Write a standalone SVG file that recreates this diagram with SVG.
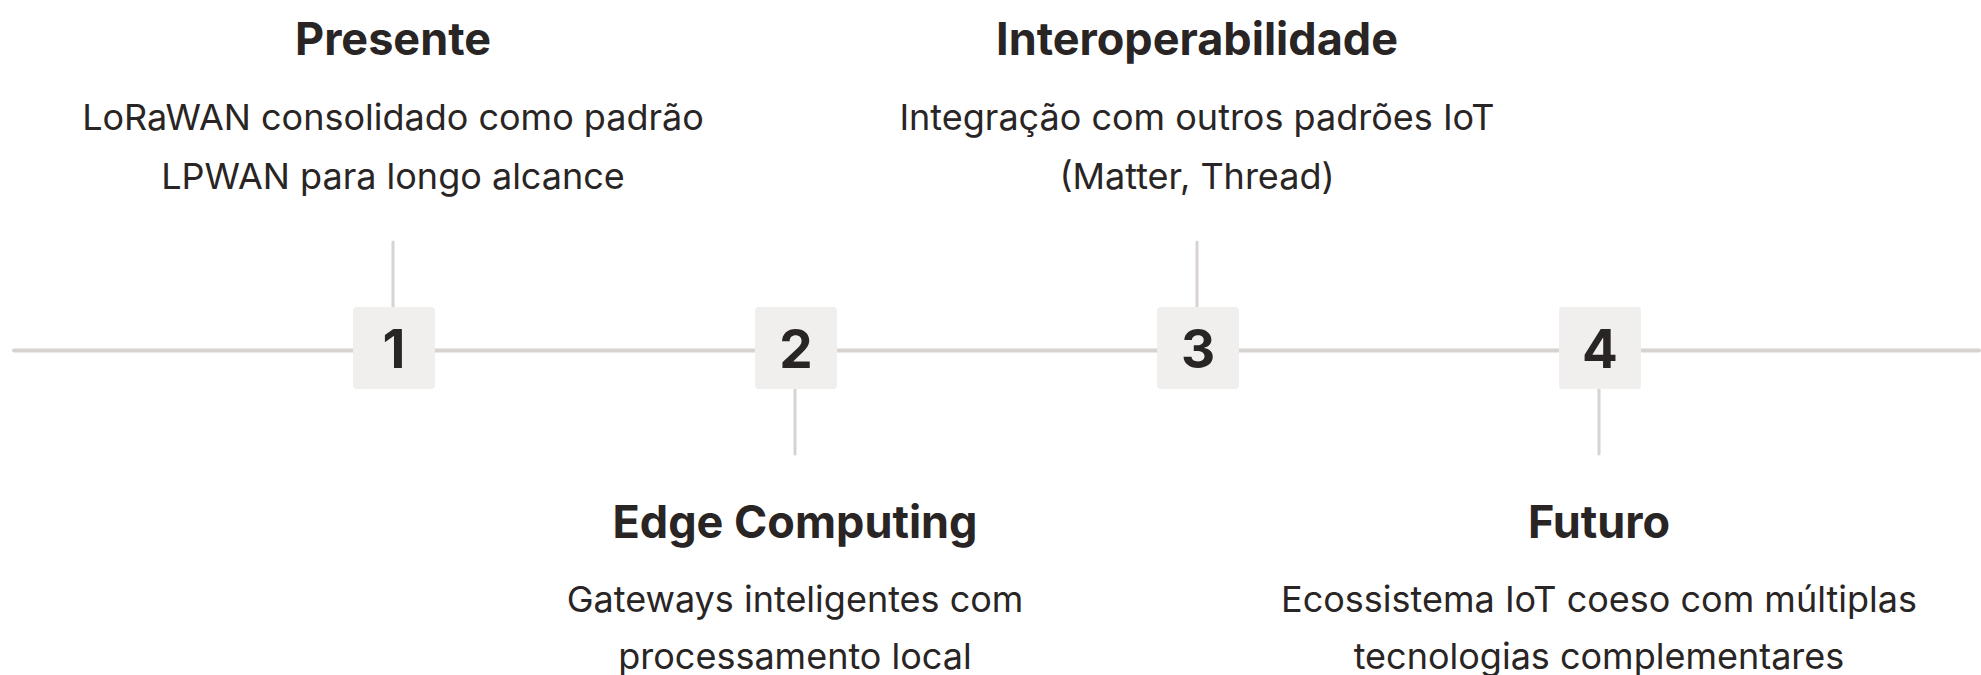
<svg xmlns="http://www.w3.org/2000/svg" width="1981" height="675" viewBox="0 0 1981 675">
<style>
.title{font-family:Inter,"Liberation Sans",sans-serif;font-weight:700;font-size:45px;fill:#292524;text-anchor:middle}
.desc{font-family:Inter,"Liberation Sans",sans-serif;font-weight:400;font-size:36px;fill:#292524;text-anchor:middle}
.num{font-family:Inter,"Liberation Sans",sans-serif;font-weight:700;font-size:53px;fill:#292524;text-anchor:middle}
.box{fill:#f1efee}
.axis{stroke:#d6d3d1;stroke-width:4;stroke-linecap:round;fill:none}
.tick{stroke:#d6d3d1;stroke-width:3;stroke-linecap:round;fill:none}
</style>
<rect width="1981" height="675" fill="#ffffff"/>
<g id="connectors">
<line class="axis" x1="14" y1="350.5" x2="1979" y2="350.5"/>
<line class="tick" x1="393" y1="242" x2="393" y2="307"/>
<line class="tick" x1="795" y1="389" x2="795" y2="454"/>
<line class="tick" x1="1197" y1="242" x2="1197" y2="307"/>
<line class="tick" x1="1599" y1="389" x2="1599" y2="454"/>
</g>
<g id="node1">
<rect class="box" x="353" y="307" width="82" height="82" rx="4"/>
<text class="num" x="394" y="368">1</text>
<text class="title" x="393" y="55">Presente</text>
<text class="desc" x="393" y="130">LoRaWAN consolidado como padrão</text>
<text class="desc" x="393" y="189">LPWAN para longo alcance</text>
</g>
<g id="node2">
<rect class="box" x="755" y="307" width="82" height="82" rx="4"/>
<text class="num" x="796" y="368">2</text>
<text class="title" x="795" y="538">Edge Computing</text>
<text class="desc" x="795" y="612">Gateways inteligentes com</text>
<text class="desc" x="795" y="669">processamento local</text>
</g>
<g id="node3">
<rect class="box" x="1157" y="307" width="82" height="82" rx="4"/>
<text class="num" x="1198" y="368">3</text>
<text class="title" x="1197" y="55">Interoperabilidade</text>
<text class="desc" x="1197" y="130">Integração com outros padrões IoT</text>
<text class="desc" x="1197" y="189">(Matter, Thread)</text>
</g>
<g id="node4">
<rect class="box" x="1559" y="307" width="82" height="82" rx="4"/>
<text class="num" x="1600" y="368">4</text>
<text class="title" x="1599" y="538">Futuro</text>
<text class="desc" x="1599" y="612">Ecossistema IoT coeso com múltiplas</text>
<text class="desc" x="1599" y="669">tecnologias complementares</text>
</g>
</svg>
